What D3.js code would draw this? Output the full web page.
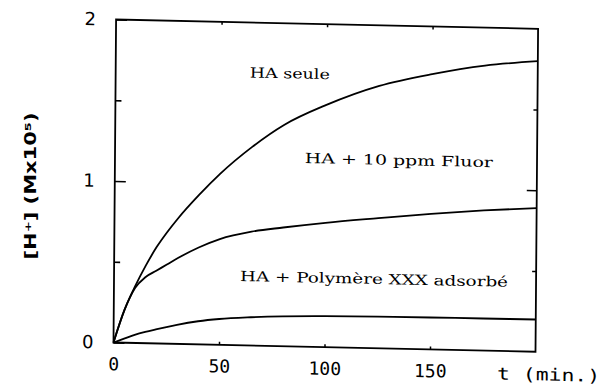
<!DOCTYPE html>
<html>
<head>
<meta charset="utf-8">
<script src="https://cdn.jsdelivr.net/npm/d3@7"></script>
<style>
  html, body { margin: 0; padding: 0; background: #fff; }
</style>
</head>
<body>
<div id="graphContainer"></div>
<script>
// data
const times = [0, 5, 10, 15, 20, 25, 30, 40, 50, 65, 80, 100, 125, 150, 175, 200];
const haSeule = [0, 0.2, 0.35, 0.48, 0.595, 0.69, 0.775, 0.925, 1.06, 1.23, 1.37, 1.5, 1.625, 1.705, 1.765, 1.8];
const haFluor = [0, 0.2, 0.34, 0.41, 0.45, 0.49, 0.53, 0.6, 0.655, 0.705, 0.735, 0.77, 0.806, 0.84, 0.868, 0.89];
const haPolymere = [0, 0.025, 0.05, 0.07, 0.087, 0.103, 0.118, 0.143, 0.16, 0.175, 0.185, 0.192, 0.196, 0.198, 0.199, 0.2];
const xTickValues = [0, 50, 100, 150];
const yTickValues = [0, 1, 2];
const yMinorTicks = [0.5, 1.5];
const curveLabels = ["HA seule", "HA + 10 ppm Fluor", "HA + Polymère XXX adsorbé"];
const curveLabelAnchors = [[63.6, 1.69], [90, 1.168], [59.7, 0.429]]; // [t, value] where each label starts
const xTitle = "t (min.)";
const yTitle = "[H⁺] (Mx10⁵)";

const width = 607, height = 390;
const W = 422, H = 323;

const svg = d3.select("#graphContainer")
  .append("svg")
  .attr("width", width)
  .attr("height", height)
  .style("background-color", "#fff");

// the scan is slightly skewed, so the whole plot gets a small shear
const g = svg.append("g")
  .attr("transform", "matrix(1,0.022,-0.008,1,113.5,342.5)");

const x = d3.scaleLinear().domain([0, 200]).range([0, W]);
const y = d3.scaleLinear().domain([0, 2]).range([0, -H]);

const noDomain = a => a.select(".domain").remove();

// bottom axis with labels
g.append("g")
  .call(d3.axisBottom(x).tickValues(xTickValues).tickSize(-3).tickPadding(15).tickFormat(d3.format("d")))
  .call(noDomain)
  .attr("font-family", "'DejaVu Sans Mono', monospace")
  .attr("font-size", 18)
  .call(a => a.selectAll("line").attr("stroke-width", 1.5));

// top ticks
g.append("g")
  .attr("transform", "translate(0," + (-H) + ")")
  .call(d3.axisTop(x).tickValues([50, 100, 150]).tickSize(-3).tickFormat(""))
  .call(noDomain)
  .call(a => a.selectAll("line").attr("stroke-width", 1.5));

// left axis
g.append("g")
  .call(d3.axisLeft(y).tickValues(yTickValues).tickSize(-11).tickPadding(20).tickFormat(d3.format("d")))
  .call(noDomain)
  .attr("font-family", "'DejaVu Sans', sans-serif")
  .attr("font-size", 18)
  .call(a => a.selectAll("line").attr("stroke-width", 1.6));
g.append("g")
  .call(d3.axisLeft(y).tickValues(yMinorTicks).tickSize(-6).tickFormat(""))
  .call(noDomain)
  .call(a => a.selectAll("line").attr("stroke-width", 1.6));

// right axis ticks
g.append("g")
  .attr("transform", "translate(" + W + ",0)")
  .call(d3.axisRight(y).tickValues([1]).tickSize(-10).tickFormat(""))
  .call(noDomain)
  .call(a => a.selectAll("line").attr("stroke-width", 1.6));
g.append("g")
  .attr("transform", "translate(" + W + ",0)")
  .call(d3.axisRight(y).tickValues(yMinorTicks).tickSize(-4).tickFormat(""))
  .call(noDomain)
  .call(a => a.selectAll("line").attr("stroke-width", 1.6));

// frame
g.append("rect")
  .attr("x", x(0))
  .attr("y", y(2))
  .attr("width", x(200) - x(0))
  .attr("height", y(0) - y(2))
  .attr("fill", "none")
  .attr("stroke", "#000")
  .attr("stroke-width", 1.8);

// curves
const series = [haSeule, haFluor, haPolymere];
const line = d3.line()
  .x((d, i) => x(times[i]))
  .y(d => y(d))
  .curve(d3.curveMonotoneX);
g.selectAll("path.curve")
  .data(series)
  .enter()
  .append("path")
    .attr("class", "curve")
    .attr("d", d => line(d))
    .attr("fill", "none")
    .attr("stroke", "#000")
    .attr("stroke-width", 1.8);

// curve labels
const labelLengths = [80, 188, 268];
g.selectAll("text.curveLabel")
  .data(curveLabels)
  .enter()
  .append("text")
    .attr("class", "curveLabel")
    .attr("x", (d, i) => x(curveLabelAnchors[i][0]))
    .attr("y", (d, i) => y(curveLabelAnchors[i][1]))
    .attr("dy", "0.35em")
    .attr("textLength", (d, i) => labelLengths[i])
    .attr("lengthAdjust", "spacingAndGlyphs")
    .style("font-family", "'DejaVu Serif', serif")
    .style("font-size", "14px")
    .style("fill", "#000")
    .text(d => d);

// x axis title
g.append("text")
  .attr("x", x(181.9))
  .attr("y", 22.6)
  .attr("dy", "0.35em")
  .attr("textLength", 103)
  .attr("lengthAdjust", "spacingAndGlyphs")
  .style("font-family", "'DejaVu Sans Mono', monospace")
  .style("font-size", "17px")
  .text(xTitle);

// y axis title
svg.append("text")
  .attr("transform", "translate(30,186) rotate(-90)")
  .attr("text-anchor", "middle")
  .attr("dy", "0.35em")
  .attr("textLength", 147)
  .attr("lengthAdjust", "spacingAndGlyphs")
  .style("font-family", "'DejaVu Sans', sans-serif")
  .style("font-weight", "bold")
  .style("font-size", "16px")
  .text(yTitle);
</script>
</body>
</html>
